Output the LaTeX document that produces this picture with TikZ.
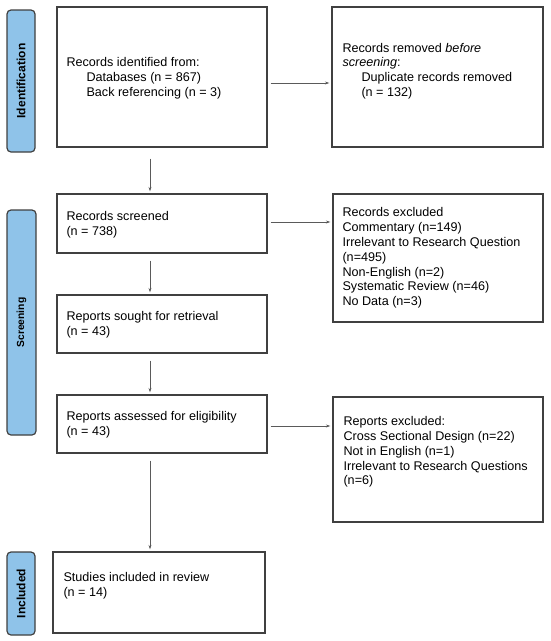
\documentclass[tikz,border=0pt]{standalone}
\usepackage{fontspec}
\setmainfont{Liberation Sans}
\usetikzlibrary{arrows.meta,calc}
\definecolor{lblue}{RGB}{143,195,233}
\definecolor{boxline}{RGB}{64,64,64}
\definecolor{arrgray}{RGB}{90,90,90}
\tikzset{
  flowbox/.style={draw=boxline, line width=1.3pt, inner sep=0pt},
  txt/.style={inner sep=0pt, align=left, anchor=west, font=\fontsize{12.6}{14.8}\selectfont},
  phase/.style={draw=boxline, fill=lblue, line width=1.2pt, rounded corners=4pt, inner sep=0pt},
  phasetxt/.style={rotate=90, font=\bfseries\fontsize{12}{14}\selectfont, inner sep=0pt},
  arr/.style={draw=arrgray, line width=0.8pt, -{Stealth[length=4.5pt,width=3pt]}, shorten >=2pt},
}
\begin{document}
\begin{tikzpicture}[x=1pt,y=-1pt]
\useasboundingbox (0,0) rectangle (550,641);
% phase labels
\node[phase, minimum width=28pt, minimum height=142pt] (L1) at (21,81) {};
\node[phasetxt] (L1t) at (L1.center) {Identification};
\node[phase, minimum width=29pt, minimum height=225pt] (L2) at (21.5,322.5) {};
\node[phasetxt, font=\bfseries\fontsize{10.3}{12}\selectfont] (L2t) at (L2.center) {Screening};
\node[phase, minimum width=28pt, minimum height=83pt] (L3) at (21,593.5) {};
\node[phasetxt] (L3t) at (L3.center) {Included};
% boxes
\node[flowbox, minimum width=210pt, minimum height=140pt] (b1) at (162,77) {};
\node[flowbox, minimum width=211pt, minimum height=140pt] (r1) at (437.5,77) {};
\node[flowbox, minimum width=210pt, minimum height=59pt] (b2) at (162,223.5) {};
\node[flowbox, minimum width=210pt, minimum height=128pt] (r2) at (438,258) {};
\node[flowbox, minimum width=210pt, minimum height=58pt] (b3) at (162,324) {};
\node[flowbox, minimum width=210pt, minimum height=58pt] (b4) at (162,424) {};
\node[flowbox, minimum width=210pt, minimum height=125pt] (r3) at (438,459.5) {};
\node[flowbox, minimum width=212pt, minimum height=81pt] (b5) at (159,592.5) {};
% texts
\node[txt] (t1) at ($(b1.west)+(10,1)$) {Records identified from:\\\hspace*{20pt}Databases (n = 867)\\\hspace*{20pt}Back referencing (n = 3)};
\node[txt] (tr1) at ($(r1.west)+(11,-6)$) {Records removed \textit{before}\\\textit{screening}:\\\hspace*{19pt}Duplicate records removed\\\hspace*{19pt}(n = 132)};
\node[txt] (t2) at ($(b2.west)+(10,1.5)$) {Records screened\\(n = 738)};
\node[txt] (tr2) at ($(r2.west)+(10,0)$) {Records excluded\\Commentary (n=149)\\Irrelevant to Research Question\\(n=495)\\Non-English (n=2)\\Systematic Review (n=46)\\No Data (n=3)};
\node[txt] (t3) at ($(b3.west)+(10,0.5)$) {Reports sought for retrieval\\(n = 43)};
\node[txt] (t4) at ($(b4.west)+(10,1)$) {Reports assessed for eligibility\\(n = 43)};
\node[txt] (tr3) at ($(r3.west)+(11,-7.5)$) {Reports excluded:\\Cross Sectional Design (n=22)\\Not in English (n=1)\\Irrelevant to Research Questions\\(n=6)};
\node[txt] (t5) at ($(b5.west)+(11,-7)$) {Studies included in review\\(n = 14)};
% connectors
\coordinate (vx) at (150,0);
\draw[arr, shorten <=11pt] (b1.south -| vx) -- (b2.north -| vx);
\draw[arr, shorten <=7pt] (b2.south -| vx) -- (b3.north -| vx);
\draw[arr, shorten <=7pt] (b3.south -| vx) -- (b4.north -| vx);
\draw[arr, shorten <=7pt] (b4.south -| vx) -- (b5.north -| vx);
\draw[arr, shorten <=3pt] ([shift={(0,6)}]b1.east) -- ([shift={(0,6)}]b1.east -| r1.west);
\draw[arr, shorten <=3pt] ([shift={(0,-1.5)}]b2.east) -- ([shift={(0,-1.5)}]b2.east -| r2.west);
\draw[arr, shorten <=3pt] ([shift={(0,2)}]b4.east) -- ([shift={(0,2)}]b4.east -| r3.west);
\end{tikzpicture}
\end{document}
